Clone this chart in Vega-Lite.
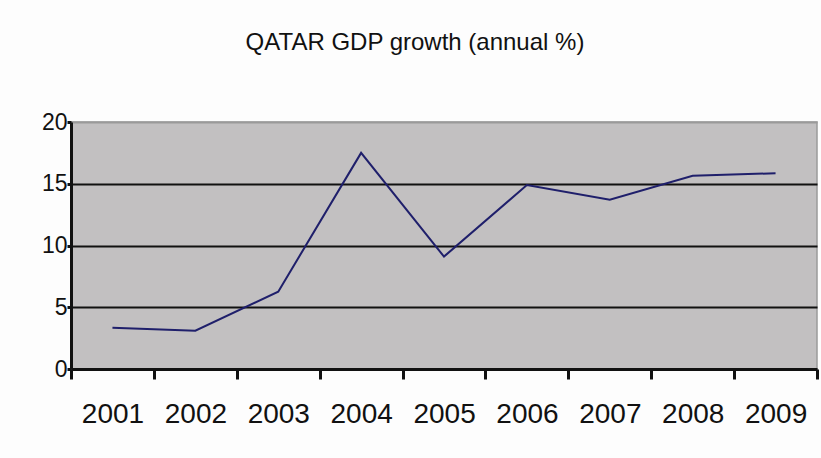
{
  "$schema": "https://vega.github.io/schema/vega-lite/v6.json",
  "autosize": {"type": "none"},
  "width": 746,
  "height": 247,
  "padding": {"left": 71, "top": 122, "right": 4, "bottom": 89},
  "background": "#fdfdfd",
  "title": {
    "text": "QATAR GDP growth (annual %)",
    "font": "Liberation Sans",
    "fontSize": 24,
    "fontWeight": "normal",
    "color": "#111111",
    "anchor": "middle",
    "frame": "group",
    "baseline": "alphabetic",
    "dx": -29,
    "offset": 37
  },
  "data": {
    "values": [
      {"year": 2001, "growth": 3.34},
      {"year": 2002, "growth": 3.1},
      {"year": 2003, "growth": 6.26},
      {"year": 2004, "growth": 17.5},
      {"year": 2005, "growth": 9.1},
      {"year": 2006, "growth": 14.9},
      {"year": 2007, "growth": 13.7},
      {"year": 2008, "growth": 15.65},
      {"year": 2009, "growth": 15.85}
    ]
  },
  "mark": {"type": "line", "color": "#1f1f6b", "strokeWidth": 2},
  "encoding": {
    "x": {
      "field": "year",
      "type": "quantitative",
      "scale": {"domain": [2000.5, 2009.5], "nice": false, "zero": false},
      "axis": {
        "title": null,
        "values": [2000.5, 2001.5, 2002.5, 2003.5, 2004.5, 2005.5, 2006.5, 2007.5, 2008.5, 2009.5],
        "labelExpr": "datum.value < 2009.4 ? format(datum.value + 0.5, 'd') : ''",
        "labelOffset": 41.5,
        "labelFont": "Liberation Sans",
        "labelFontSize": 28,
        "labelColor": "#111111",
        "labelPadding": 21,
        "labelFlush": false,
        "labelOverlap": false,
        "domainColor": "#111111",
        "domainWidth": 3,
        "tickColor": "#111111",
        "tickWidth": 3,
        "tickSize": 10,
        "grid": false
      }
    },
    "y": {
      "field": "growth",
      "type": "quantitative",
      "scale": {"domain": [0, 20], "nice": false},
      "axis": {
        "title": null,
        "values": [0, 5, 10, 15, 20],
        "labelFont": "Liberation Sans",
        "labelFontSize": 23,
        "labelColor": "#111111",
        "labelPadding": 0,
        "labelFlush": false,
        "labelOverlap": false,
        "domainColor": "#111111",
        "domainWidth": 3,
        "tickColor": "#111111",
        "tickWidth": 3,
        "tickSize": 4,
        "grid": true,
        "gridColor": {"condition": {"test": "datum.value >= 20 || datum.value <= 0", "value": "#9a9a9a"}, "value": "#111111"},
        "gridWidth": 2.2
      }
    }
  },
  "config": {
    "view": {"fill": "#c2c0c1", "stroke": "#9a9a9a", "strokeWidth": 1.5}
  }
}
